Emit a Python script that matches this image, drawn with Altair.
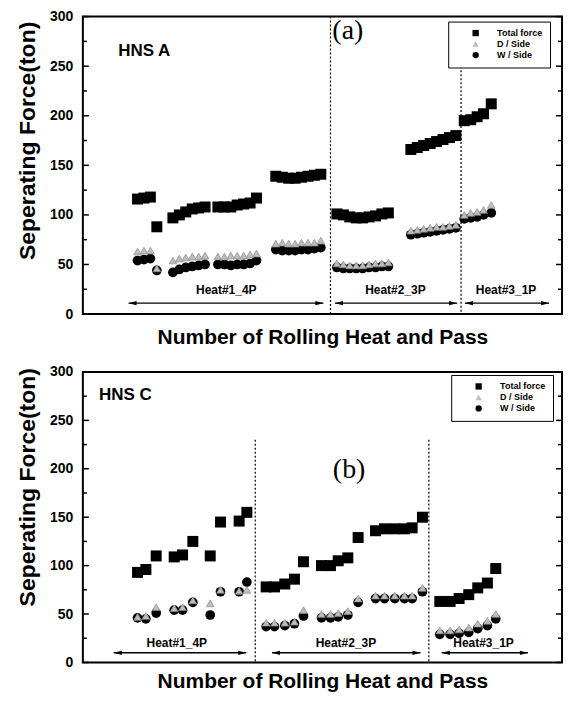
import altair as alt
import pandas as pd

SERIES = ["Total force", "D / Side", "W / Side"]
FONT = "Liberation Sans"
SERIF = "Liberation Serif"

# ---------------- Panel (a)  HNS A ----------------
a_pass = [8.5, 9.5, 10.5, 11.5,
          14, 15, 16, 17, 18, 19,
          21, 22, 23, 24, 25, 26, 27,
          30, 31, 32, 33, 34, 35, 36, 37,
          39.5, 40.5, 41.5, 42.5, 43.5, 44.5, 45.5, 46.5, 47.5,
          51, 52, 53, 54, 55, 56, 57, 58,
          59.3, 60.3, 61.3, 62.3, 63.5]
a_total = [116, 117, 118, 88,
           97, 100, 103, 106, 107, 108,
           108, 108, 108, 110, 111, 112, 117,
           139, 138, 137, 137, 138, 139, 140, 141,
           101, 100, 98, 97, 97, 98, 99, 101, 102,
           166, 168, 170, 172, 174, 176, 178, 180,
           195, 196, 199, 202, 212]
a_dside = [63, 64, 64, 46,
           54, 56, 57, 58, 58, 59,
           58, 58, 59, 59, 59, 60, 61,
           71, 72, 71, 71, 72, 72, 72, 74,
           51, 50, 49, 49, 49, 50, 51, 51, 52,
           84, 85, 86, 87, 88, 88, 89, 90,
           100, 102, 103, 105, 110]
a_wside = [54, 55, 56, 44,
           42, 45, 47, 48, 49, 50,
           50, 50, 49, 50, 50, 51, 54,
           65, 64, 64, 64, 65, 65, 66, 67,
           47, 46, 46, 46, 46, 47, 47, 48, 48,
           80, 81, 82, 83, 84, 85, 86, 87,
           96, 97, 98, 100, 102]
a_sep_x = [38.5, 58.8]
a_sep_top = [300, 250]
a_heat_labels = ["Heat#1_4P", "Heat#2_3P", "Heat#3_1P"]
a_arrow_start = [7.1, 39.2, 59.4]
a_arrow_end = [37.4, 58.2, 72.5]
a_label_x = [22.3, 48.6, 65.8]
a_arrow_y = 11
a_label_y = 24
a_name, a_name_x, a_name_y = "HNS A", 5.5, 265
a_tag, a_tag_x, a_tag_y = "(a)", 41.2, 285

# ---------------- Panel (b)  HNS C ----------------
b_pass = [8.5, 9.8, 11.4, 14.2, 15.5, 17.1, 19.8, 21.4, 24.3, 25.5,
          28.5, 29.8, 31.4, 32.9, 34.3, 37.1, 38.5, 39.7, 41.2, 42.8,
          45.5, 46.9, 48.5, 50.0, 51.2, 52.8,
          55.5, 57.1, 58.5, 60.0, 61.4, 62.9, 64.2]
b_total = [93, 96, 110, 109, 111, 125, 110, 145, 146, 155,
           78, 78, 81, 86, 104, 100, 100, 105, 108, 129,
           136, 138, 138, 138, 139, 150,
           63, 63, 66, 70, 77, 82, 97]
b_dside = [47, 48, 57, 56, 57, 64, 61, 75, 74, 75,
           41, 41, 41, 42, 54, 50, 50, 51, 53, 66,
           69, 69, 69, 69, 69, 77,
           33, 33, 34, 36, 40, 43, 50]
b_wside = [46, 45, 51, 54, 54, 62, 49, 73, 73, 83,
           37, 37, 38, 40, 48, 46, 46, 47, 49, 62,
           66, 66, 66, 66, 66, 73,
           29, 29, 30, 31, 35, 38, 45]
b_sep_x = [26.8, 53.8]
b_sep_top = [230, 230]
b_heat_labels = ["Heat#1_4P", "Heat#2_3P", "Heat#3_1P"]
b_arrow_start = [4.8, 29.4, 55.8]
b_arrow_end = [25.4, 52.5, 69.2]
b_label_x = [14.6, 40.9, 62.3]
b_arrow_y = 10
b_label_y = 20
b_name, b_name_x, b_name_y = "HNS C", 2.5, 276
b_tag, b_tag_x, b_tag_y = "(b)", 41.4, 199

y_major = [0, 50, 100, 150, 200, 250, 300]
y_minor = [25, 75, 125, 175, 225, 275]

W = 480
XDOM = [0, 74.5]


def panel(pass_, total, dside, wside, sep_x, sep_top, heat_labels,
          a_start, a_end, label_x, arrow_y, label_y,
          name, name_x, name_y, tag, tag_x, tag_y, height, legx, legy,
          title_y, xtitle_pad):
    xs = alt.Scale(domain=XDOM, nice=False, zero=False)
    ys = alt.Scale(domain=[0, 300], nice=False)
    x_axis = alt.Axis(title="Number of Rolling Heat and Pass", labels=False, ticks=False,
                      domain=False, grid=False, titleFontSize=21, titleFont=FONT,
                      titleFontWeight="bold", titleColor="black", titlePadding=xtitle_pad)
    y_axis = alt.Axis(title="Seperating Force(ton)", values=y_major, ticks=False,
                      domain=False, grid=False, labelFontSize=14, labelFont=FONT,
                      labelFontWeight="bold", labelColor="black", labelPadding=10,
                      titleFontSize=23, titleFont=FONT, titleFontWeight="bold",
                      titleColor="black", titlePadding=10, titleY=title_y)
    cscale = alt.Scale(domain=SERIES, range=["black", "#bdbdbd", "black"])
    sscale = alt.Scale(domain=SERIES, range=["square", "triangle-up", "circle"])
    leg = alt.Legend(title=None, orient="none", legendX=legx, legendY=legy,
                     fillColor="white", strokeColor="black", padding=7,
                     labelFontSize=9, labelFont=FONT, labelFontWeight="bold",
                     labelColor="black", symbolSize=40, rowPadding=1,
                     symbolOffset=16, labelOffset=17)

    def X(field):
        return alt.X(field, scale=xs, axis=x_axis, title="Number of Rolling Heat and Pass")

    def Y(field):
        return alt.Y(field, scale=ys, axis=y_axis, title="Seperating Force(ton)")

    def series_df(vals, name_):
        return pd.DataFrame({"pass": pass_, "value": vals, "series": [name_] * len(vals)})

    def pts(df, size, **kw):
        return alt.Chart(df).mark_point(filled=True, size=size, opacity=1, **kw).encode(
            x=X("pass:Q"),
            y=Y("value:Q"),
            color=alt.Color("series:N", scale=cscale, legend=leg),
            shape=alt.Shape("series:N", scale=sscale, legend=leg),
        )

    sq = pts(series_df(total, SERIES[0]), 121)
    ci = pts(series_df(wside, SERIES[2]), 95)
    tr = pts(series_df(dside, SERIES[1]), 60, stroke="#8c8c8c", strokeWidth=0.7)

    sep_df = pd.DataFrame({"sx": sep_x, "top": sep_top, "bot": [0] * len(sep_x)})
    seps = alt.Chart(sep_df).mark_rule(color="black", strokeWidth=1.2, strokeDash=[2, 2]).encode(
        x=X("sx:Q"), y=Y("top:Q"), y2="bot:Q",
    )

    arr_df = pd.DataFrame({"x0": a_start, "x1": a_end, "ay": [arrow_y] * 3,
                           "lx": label_x, "ly": [label_y] * 3, "lab": heat_labels})
    arr = alt.Chart(arr_df).mark_rule(color="black", strokeWidth=1.4).encode(
        x=X("x0:Q"), x2="x1:Q", y=Y("ay:Q"))
    head_l = alt.Chart(arr_df).mark_point(shape="M0,0L1.7,-0.45L1.7,0.45Z", filled=True,
                                          size=90, color="black", opacity=1).encode(
        x=X("x0:Q"), y=Y("ay:Q"))
    head_r = alt.Chart(arr_df).mark_point(shape="M0,0L-1.7,-0.45L-1.7,0.45Z", filled=True,
                                          size=90, color="black", opacity=1).encode(
        x=X("x1:Q"), y=Y("ay:Q"))
    labs = alt.Chart(arr_df).mark_text(font=FONT, fontSize=12, fontWeight="bold",
                                       color="black").encode(
        x=X("lx:Q"), y=Y("ly:Q"), text="lab:N")

    name_df = pd.DataFrame({"x": [name_x], "y": [name_y], "t": [name]})
    name_t = alt.Chart(name_df).mark_text(font=FONT, fontSize=17, fontWeight="bold",
                                          align="left", color="black").encode(
        x=X("x:Q"), y=Y("y:Q"), text="t:N")
    tag_df = pd.DataFrame({"x": [tag_x], "y": [tag_y], "t": [tag]})
    tag_t = alt.Chart(tag_df).mark_text(font=SERIF, fontSize=28, color="black").encode(
        x=X("x:Q"), y=Y("y:Q"), text="t:N")

    maj = pd.DataFrame({"v": y_major})
    mino = pd.DataFrame({"v": y_minor})

    def ticks(df, x0, x1):
        return alt.Chart(df).mark_rule(color="black", strokeWidth=1.5).encode(
            y=Y("v:Q"), x=alt.value(x0), x2=alt.value(x1))

    tk = [ticks(maj, 0, 6), ticks(mino, 0, 4), ticks(maj, W, W - 6), ticks(mino, W, W - 4)]

    return alt.layer(sq, seps, arr, head_l, head_r, labs, name_t, tag_t, *tk, ci, tr).properties(
        width=W, height=height)


pa = panel(a_pass, a_total, a_dside, a_wside, a_sep_x, a_sep_top, a_heat_labels,
           a_arrow_start, a_arrow_end, a_label_x, a_arrow_y, a_label_y,
           a_name, a_name_x, a_name_y, a_tag, a_tag_x, a_tag_y, 298, 366, 5, 124, 12)
pb = panel(b_pass, b_total, b_dside, b_wside, b_sep_x, b_sep_top, b_heat_labels,
           b_arrow_start, b_arrow_end, b_label_x, b_arrow_y, b_label_y,
           b_name, b_name_x, b_name_y, b_tag, b_tag_x, b_tag_y, 291, 369, 3, 115, 8)

chart = alt.vconcat(pa, pb, spacing=58, bounds="flush").resolve_scale(
    color="independent", shape="independent", x="independent", y="independent"
).resolve_legend(color="independent", shape="independent").properties(
    padding={"left": 7, "top": 0, "right": 0, "bottom": 0}
).configure_view(stroke="black", strokeWidth=2)

chart.save("out.html", embed_options={"renderer": "svg", "actions": False})
